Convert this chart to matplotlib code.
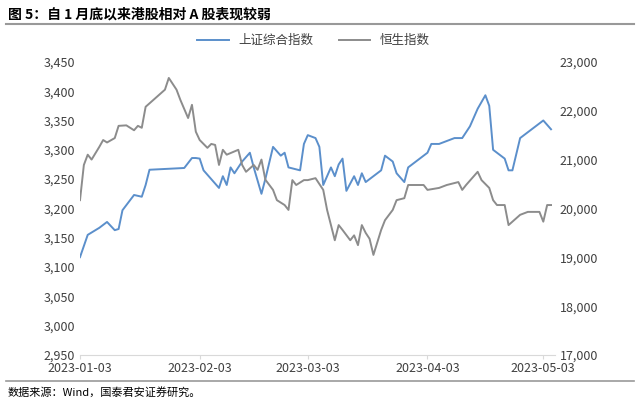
import matplotlib.pyplot as plt
import matplotlib.dates as mdates
import numpy as np
import pandas as pd

plt.rcParams['font.family'] = ['Noto Sans CJK SC', 'DejaVu Sans']

# days since 2023-01-03 and index levels
sh_days = [0, 2, 5, 7, 9, 10, 11, 14, 16, 17, 18, 27, 29, 30, 31, 32, 34, 36, 37, 38, 39, 40, 42, 44, 45, 47, 48,
           50, 52, 53, 54, 57, 58, 59, 61, 62, 63, 65, 66, 67, 68, 69, 71, 72, 73, 74, 76, 78, 79, 81, 82, 84, 85,
           88, 90, 91, 93, 97, 99, 101, 103, 105, 106, 107, 110, 111, 112, 114, 120, 122]
sh_vals = [3117, 3155, 3167, 3177, 3163, 3165, 3197, 3223, 3220, 3240, 3266, 3269, 3286, 3286, 3285, 3265, 3250,
           3235, 3255, 3240, 3270, 3260, 3280, 3295, 3270, 3225, 3250, 3305, 3290, 3295, 3270, 3265, 3310, 3325,
           3320, 3305, 3240, 3270, 3255, 3275, 3285, 3230, 3255, 3240, 3260, 3245, 3255, 3265, 3290, 3280, 3260,
           3245, 3270, 3285, 3295, 3310, 3310, 3320, 3320, 3340, 3370, 3393, 3375, 3300, 3285, 3265, 3265, 3320,
           3350, 3335]

hs_days = [0, 1, 2, 3, 5, 6, 7, 9, 10, 12, 14, 15, 16, 17, 19, 22, 23, 25, 26, 28, 29, 30, 31, 33, 34, 35, 36,
           37, 38, 41, 42, 43, 45, 46, 47, 48, 50, 51, 53, 54, 55, 56, 58, 59, 61, 63, 64, 66, 67, 68, 70, 71, 72,
           73, 74, 75, 76, 78, 79, 81, 82, 84, 85, 87, 89, 90, 93, 95, 98, 99, 100, 103, 104, 106, 107, 108, 110,
           111, 114, 116, 119, 120, 121, 122]
hs_vals = [20170, 20890, 21100, 21000, 21260, 21400, 21350, 21440, 21690, 21700, 21600, 21690, 21650, 22080,
           22220, 22430, 22670, 22430, 22220, 21850, 22120, 21570, 21400, 21240, 21320, 21300, 20890, 21200,
           21100, 21200, 20890, 20750, 20890, 20790, 21000, 20590, 20380, 20170, 20070, 19970, 20580, 20480,
           20580, 20580, 20620, 20380, 19970, 19350, 19660, 19560, 19350, 19450, 19250, 19660, 19500, 19380,
           19050, 19560, 19760, 19970, 20170, 20210, 20480, 20480, 20480, 20380, 20420, 20480, 20540, 20380,
           20480, 20750, 20580, 20420, 20170, 20070, 20070, 19660, 19870, 19930, 19930, 19730, 20070, 20070]

start = pd.Timestamp('2023-01-03')
sh_dates = start + pd.to_timedelta(sh_days, unit='D')
hs_dates = start + pd.to_timedelta(hs_days, unit='D')
tick_dates = pd.to_datetime(['2023-01-03', '2023-02-03', '2023-03-03', '2023-04-03', '2023-05-03'])

blue = '#5B8FCB'
grey = '#8C8C8C'
txt = '#404040'

fig = plt.figure(figsize=(6.4, 4.04), dpi=100)
ax = fig.add_axes([0.125, 0.121, 0.742, 0.726])
ax2 = ax.twinx()

l1, = ax.plot(sh_dates, sh_vals, color=blue, lw=1.4, label='上证综合指数')
l2, = ax2.plot(hs_dates, hs_vals, color=grey, lw=1.4, label='恒生指数')

ax.set_ylim(2950, 3450)
ax.set_yticks(np.arange(2950, 3451, 50))
ax2.set_ylim(17000, 23000)
ax2.set_yticks(np.arange(17000, 23001, 1000))
ax.yaxis.set_major_formatter(plt.FuncFormatter(lambda v, p: f'{v:,.0f}'))
ax2.yaxis.set_major_formatter(plt.FuncFormatter(lambda v, p: f'{v:,.0f}'))
ax.set_xlim(start, start + pd.Timedelta(days=123))
ax.set_xticks(tick_dates)
ax.xaxis.set_major_formatter(mdates.DateFormatter('%Y-%m-%d'))

for a in (ax, ax2):
    for s in a.spines.values():
        s.set_visible(False)
    a.tick_params(labelsize=9, colors=txt, length=0)
ax.spines['bottom'].set_visible(True)
ax.spines['bottom'].set_color('#D9D9D9')
ax.tick_params(axis='x', length=3, color='#D9D9D9', pad=2)

fig.legend(handles=[l1, l2], loc='center', bbox_to_anchor=(0.49, 0.9), ncol=2, frameon=False,
           fontsize=9, handlelength=2.5, columnspacing=2, labelcolor=txt)

fig.text(0.012, 0.965, '图 5：自 1 月底以来港股相对 A 股表现较弱', fontsize=10, fontweight='bold', va='center')
fig.add_artist(plt.Line2D([0.01, 0.99], [0.94, 0.94], color='#999999', lw=1.5))
fig.add_artist(plt.Line2D([0.01, 0.99], [0.057, 0.057], color='#999999', lw=1.2))
fig.text(0.012, 0.028, '数据来源：Wind，国泰君安证券研究。', fontsize=8, va='center')

fig.savefig('out.png', dpi=100)
